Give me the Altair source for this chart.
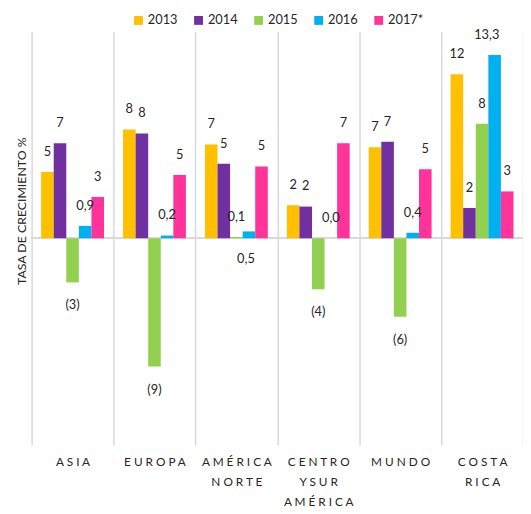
import json
import altair as alt
import pandas as pd

regions = ["ASIA", "EUROPA", "AMÉRICA NORTE", "CENTRO Y SUR AMÉRICA", "MUNDO", "COSTA RICA"]
region_lines = [["ASIA"], ["EUROPA"], ["AMÉRICA", "NORTE"], ["CENTRO", "Y SUR", "AMÉRICA"], ["MUNDO"], ["COSTA", "RICA"]]
years = ["2013", "2014", "2015", "2016", "2017*"]
colors = ["#FFC000", "#7030A0", "#92D050", "#00B0F0", "#FF3399"]

v2013 = [4.8, 7.9, 6.8, 2.4, 6.6, 11.9]
v2014 = [6.9, 7.6, 5.4, 2.3, 7.0, 2.2]
v2015 = [-3.2, -9.3, 0.1, -3.7, -5.7, 8.3]
v2016 = [0.9, 0.2, 0.5, 0.0, 0.4, 13.3]
v2017 = [3.0, 4.6, 5.2, 6.9, 5.0, 3.4]
series = [v2013, v2014, v2015, v2016, v2017]


def fmt(v, year):
    a = abs(v)
    if year == "2016" or a < 1:
        s = f"{a:.1f}".replace(".", ",")
    else:
        s = str(int(a + 0.5))
    return f"({s})" if v < 0 else s


rows = []
for y, vals in zip(years, series):
    for r, v in zip(regions, vals):
        rows.append({"region": r, "year": y, "value": v, "label": fmt(v, y), "zero": 0})
df = pd.DataFrame(rows)


def spaced(word):
    return " ".join(word)


expr = "datum.label"
for r, lines in reversed(list(zip(regions, region_lines))):
    arr = json.dumps([spaced(l) for l in lines], ensure_ascii=False)
    expr = f"datum.label == {json.dumps(r, ensure_ascii=False)} ? {arr} : ({expr})"

FONT = "Lato"
TXT = "#262626"
GRID = "#d9d9d9"

x_enc = alt.X(
    "region:N",
    sort=regions,
    scale=alt.Scale(paddingInner=0, paddingOuter=0),
    axis=alt.Axis(
        title=None, domain=False, ticks=False, grid=True, tickBand="extent",
        gridColor=GRID, gridWidth=1.5, labelAngle=0, labelAlign="center",
        labelBaseline="top", labelPadding=12, labelLineHeight=20,
        labelFont=FONT, labelFontSize=12, labelColor=TXT, labelExpr=expr,
    ),
)
xoff = alt.XOffset("year:N", sort=years, scale=alt.Scale(paddingInner=0, paddingOuter=0.757))
y_scale = alt.Scale(domain=[-15, 15], nice=False, zero=False)

base = alt.Chart(df)

zero_rule = base.mark_rule(color=GRID, strokeWidth=1.5).encode(
    y=alt.datum(0, scale=y_scale)
)

bars = base.mark_bar().encode(
    x=x_enc,
    xOffset=xoff,
    y=alt.Y(
        "value:Q", scale=y_scale,
        axis=alt.Axis(
            labels=False, ticks=False, domain=False, grid=False,
            title="TASA DE CRECIMIENTO %", titleFont=FONT, titleFontSize=12.5,
            titleFontWeight="normal", titleColor=TXT, titleAngle=270,
            titleX=-10, titleY=182, titleAlign="center", titleBaseline="middle",
        ),
    ),
    y2=alt.Y2("zero:Q"),
    color=alt.Color(
        "year:N", sort=years,
        scale=alt.Scale(domain=years, range=colors),
        legend=alt.Legend(
            orient="none", legendX=102, legendY=-18, direction="horizontal",
            title=None, symbolType="square", symbolSize=81, symbolStrokeWidth=0,
            labelFont=FONT, labelFontSize=13, labelColor=TXT,
            columnPadding=14, labelOffset=3,
        ),
    ),
)

special = "(datum.region == 'AMÉRICA NORTE' && datum.year == '2016')"
big = "(datum.region == 'COSTA RICA' && datum.year == '2016')"

text_props = dict(font=FONT, fontSize=13, color=TXT, align="center", baseline="middle")

pos_labels = base.transform_filter(
    f"datum.value >= 0 && !{special} && !{big}"
).mark_text(dy=-20.5, **text_props).encode(
    x=x_enc, xOffset=xoff, y=alt.Y("value:Q", scale=y_scale), text="label:N"
)
big_label = base.transform_filter(big).mark_text(dy=-20.5, dx=-8, **text_props).encode(
    x=x_enc, xOffset=xoff, y=alt.Y("value:Q", scale=y_scale), text="label:N"
)
neg_labels = base.transform_filter("datum.value < 0").mark_text(dy=23.5, **text_props).encode(
    x=x_enc, xOffset=xoff, y=alt.Y("value:Q", scale=y_scale), text="label:N"
)
special_label = base.transform_filter(special).mark_text(dy=21, dx=-3, **text_props).encode(
    x=x_enc, xOffset=xoff, y=alt.Y("zero:Q", scale=y_scale), text="label:N"
)

chart = alt.layer(zero_rule, bars, pos_labels, big_label, neg_labels, special_label).properties(
    width=499, height=420,
    autosize=alt.AutoSizeParams(type="none"),
    padding={"left": 24, "top": 20, "right": 0, "bottom": 58},
).configure_view(stroke=None)

chart.save("out.html", embed_options={"renderer": "svg", "actions": False})
